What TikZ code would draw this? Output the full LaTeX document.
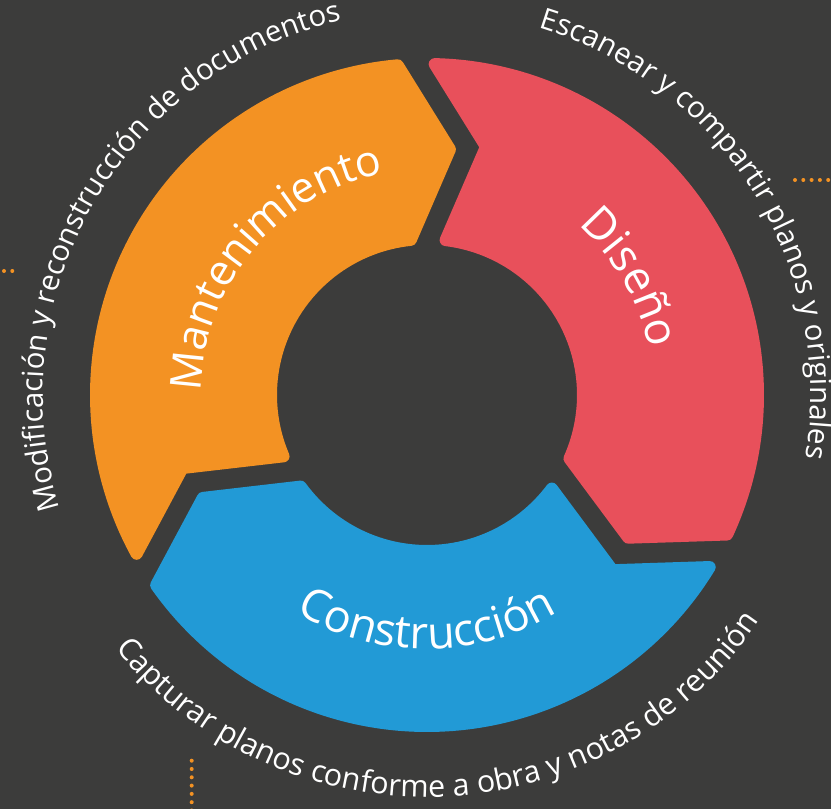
\documentclass[tikz,border=0pt]{standalone}
\usepackage{fontspec}
\setmainfont{Open Sans}
\usetikzlibrary{decorations.text}
\definecolor{bg}{RGB}{60,60,59}
\definecolor{segorange}{RGB}{243,146,35}
\definecolor{segred}{RGB}{232,80,91}
\definecolor{segblue}{RGB}{34,154,214}
\definecolor{dotorange}{RGB}{243,146,35}
\newcommand{\bigfont}{\fontsize{43}{43}\selectfont\color{white}}
\newcommand{\midfont}{\fontsize{45}{45}\selectfont\color{white}}
\newcommand{\smallfont}{\fontsize{29.5}{29.5}\selectfont\color{white}}
\newcommand{\capfont}{\fontsize{30.5}{30.5}\selectfont\color{white}}
\begin{document}
\begin{tikzpicture}[x=1pt,y=1pt,
  seg/.style={fill=#1, draw=#1, line width=12pt, line join=round},
  dotline/.style={draw=dotorange, line width=4pt, line cap=round, dash pattern=on 0pt off 8.3pt},
  arctext/.style={decorate, decoration={text along path, text align=center, text={#1}}}]
\fill[bg] (0,0) rectangle (831,809);
\useasboundingbox (0,0) rectangle (831,809);
% dotted leader lines
\coordinate (dlA) at (12.3,538);
\coordinate (dlB) at (-10,538);
\coordinate (drA) at (795,629);
\coordinate (drB) at (845,629);
\coordinate (dbA) at (191.7,48.3);
\coordinate (dbB) at (191.7,-10);
\draw[dotline] (dlA) -- (dlB);
\draw[dotline] (drA) -- (drB);
\draw[dotline] (dbA) -- (dbB);
\begin{scope}[shift={(427,414)}]
\foreach \p/\c in {0/segred, -120/segblue, 120/segorange}{
  \path[seg=\c] (88.68+\p:331pt) arc[start angle=88.68+\p, end angle=-24.93+\p, radius=331pt]
     -- (-35.34+\p:246.7pt) -- (-24.05+\p:156pt)
     arc[start angle=-24.05+\p, end angle=83.15+\p, radius=156pt]
     -- (76.63+\p:255.2pt) -- cycle;
}
% labels inside the ring
\path[arctext={|\bigfont|Mantenimiento}] (240:226pt) arc[start angle=240, end angle=40, radius=226pt];
\path[arctext={|\midfont|Diseño}] (130:227pt) arc[start angle=130, end angle=-70, radius=227pt];
\path[arctext={|\midfont|Construcción}] (170:254pt) arc[start angle=170, end angle=370, radius=254pt];
% outer descriptions
\path[arctext={|\smallfont|Modificación y reconstrucción de documentos}] (250:384pt) arc[start angle=250, end angle=50, radius=384pt];
\path[arctext={|\smallfont|Escanear y compartir planos y originales}] (131.8:384pt) arc[start angle=131.8, end angle=-68.2, radius=384pt];
\path[arctext={|\capfont|Capturar planos conforme a obra y notas de reunión}] (172.5:402pt) arc[start angle=172.5, end angle=372.5, radius=402pt];
\end{scope}
\end{tikzpicture}
\end{document}
